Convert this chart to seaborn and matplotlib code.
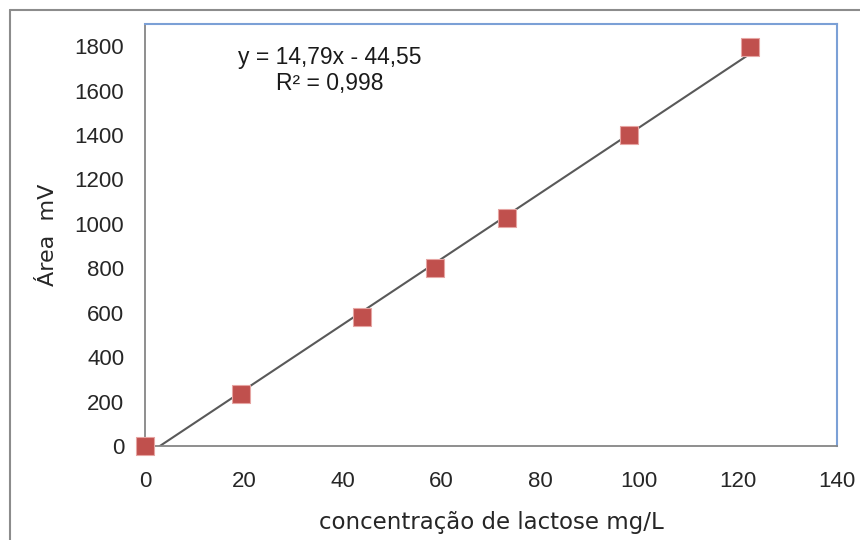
import numpy as np
import pandas as pd
import seaborn as sns
import matplotlib.pyplot as plt
from matplotlib.lines import Line2D

# calibration data
conc = [0, 19.4, 43.9, 58.7, 73.2, 97.9, 122.3]
area = [0, 236, 580, 803, 1027, 1398, 1797]
slope, intercept = 14.79, -44.55
eq_text = "y = 14,79x - 44,55\nR² = 0,998"
x_ticks = [0, 20, 40, 60, 80, 100, 120, 140]
y_ticks = [0, 200, 400, 600, 800, 1000, 1200, 1400, 1600, 1800]

df = pd.DataFrame({'conc': conc, 'area': area})

sns.set_style('white')
plt.rcParams['font.family'] = ['Liberation Sans', 'DejaVu Sans']

fig = plt.figure(figsize=(8.6, 5.4), dpi=100)
ax = fig.add_axes([145/860, 1-446/540, (837-145)/860, (446-24)/540])

# trend line from the printed equation
xl = np.array([0, max(conc)])
ax.plot(xl, slope*xl + intercept, color='#595959', lw=1.5, zorder=2)

sns.scatterplot(data=df, x='conc', y='area', marker='s', s=180,
                color='#C0504D', edgecolor='#E6A5A3', linewidth=0.8,
                ax=ax, zorder=3, clip_on=False)

ax.set_xlim(0, 140)
ax.set_ylim(0, 1900)
ax.set_xticks(x_ticks)
ax.set_yticks(y_ticks)
ax.tick_params(axis='both', direction='out', length=5, width=1.2,
               color='#868686', labelsize=16, labelcolor='#262626')
ax.tick_params(axis='y', pad=10)
ax.tick_params(axis='x', pad=13)

for s in ['left', 'bottom']:
    ax.spines[s].set_color('#868686')
    ax.spines[s].set_linewidth(1.3)
for s in ['top', 'right']:
    ax.spines[s].set_color('#7BA0D6')
    ax.spines[s].set_linewidth(1.5)

ax.set_xlabel('concentração de lactose mg/L', fontsize=16.5, color='#262626',
              labelpad=14, family=['DejaVu Sans'])
ax.set_ylabel('Área  mV', fontsize=16, color='#262626', labelpad=12,
              family=['DejaVu Sans'])

ax.text(37.4, 1692, eq_text, ha='center', va='center', multialignment='center',
        fontsize=16.5, color='#1a1a1a', linespacing=1.15)

# outer chart border
fig.add_artist(Line2D([10/860, 10/860], [0, 1-10/540], color='#8c8c8c', lw=1.5))
fig.add_artist(Line2D([10/860, 1], [1-10/540, 1-10/540], color='#8c8c8c', lw=1.5))

fig.savefig('out.png', dpi=100)
